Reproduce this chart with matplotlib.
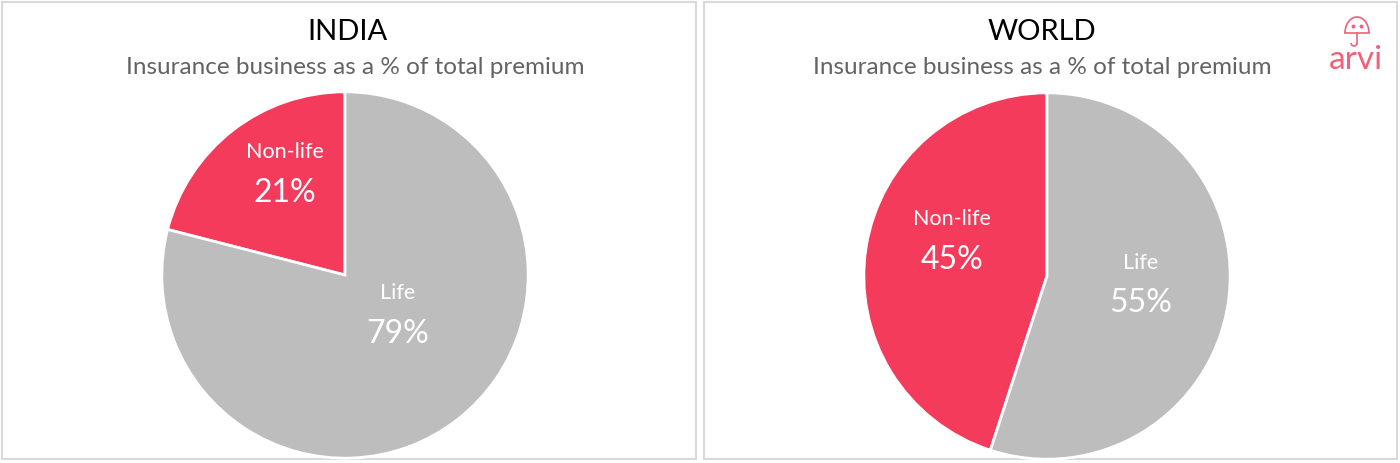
import numpy as np
import matplotlib.pyplot as plt
from matplotlib.patches import Rectangle, Arc

# data
labels = ['Non-life', 'Life']
india = [21, 79]
world = [45, 55]
titles = ['INDIA', 'WORLD']
subtitle = 'Insurance business as a % of total premium'

RED = '#f43b5c'
GREY = '#bdbdbd'
W, H = 1400, 463


def pie_axes(fig, cx, cy, r):
    # pixel centre / radius -> figure fraction
    return fig.add_axes([(cx - r) / W, (H - cy - r) / H, 2 * r / W, 2 * r / H])


def draw_pie(ax, vals, lab_pos):
    ax.pie(vals, colors=[RED, GREY], startangle=90, counterclock=True,
           wedgeprops=dict(edgecolor='white', linewidth=2))
    ax.set_xlim(-1.01, 1.01)
    ax.set_ylim(-1.01, 1.01)
    ax.set_aspect('equal')
    ax.axis('off')
    for name, v, (x, y) in zip(labels, vals, lab_pos):
        ax.text(x, y + 0.11, name, ha='center', va='center', color='white',
                fontsize=15.5, family='Lato')
        ax.text(x, y - 0.11, '%d%%' % v, ha='center', va='center',
                color='white', fontsize=23, family='Lato')


def main():
    fig = plt.figure(figsize=(14, 4.63), dpi=100)

    # background layer in pixel units for frames and logo
    bg = fig.add_axes([0, 0, 1, 1])
    bg.set_xlim(0, W)
    bg.set_ylim(H, 0)
    bg.axis('off')
    bg.add_patch(Rectangle((2, 2), 694, 457, fill=False, ec='#d9d9d9', lw=1.5))
    bg.add_patch(Rectangle((704, 2), 693, 457, fill=False, ec='#d9d9d9', lw=1.5))

    for x, xs, t in zip([347, 1042], [355, 1042], titles):
        bg.text(x, 32, t, ha='center', va='center', fontsize=21,
                family='Lato', color='black')
        bg.text(xs, 68, subtitle, ha='center', va='center', fontsize=17.5,
                family='Lato', color='#636363')

    # logo
    pink = '#f2607a'
    bg.add_patch(Arc((1357, 33), 24, 32, theta1=180, theta2=360, color=pink, lw=1.2))
    bg.plot([1345, 1369], [33, 33], color=pink, lw=1.2)
    bg.plot([1353, 1361], [26, 26], 'o', color=pink, ms=1.8)
    bg.plot([1357, 1357], [33, 43], color=pink, lw=1.2)
    bg.add_patch(Arc((1354, 43), 6, 6, theta1=0, theta2=180, color=pink, lw=1.2))
    bg.text(1356, 60, 'arvi', ha='center', va='center', fontsize=24,
            family='Lato', color=pink)

    ax1 = pie_axes(fig, 345, 275, 185)
    draw_pie(ax1, india, [(-0.33, 0.56), (0.29, -0.21)])

    ax2 = pie_axes(fig, 1047, 276, 185)
    draw_pie(ax2, world, [(-0.52, 0.2), (0.51, -0.04)])

    fig.savefig('out.png', dpi=100)


if __name__ == '__main__':
    main()
